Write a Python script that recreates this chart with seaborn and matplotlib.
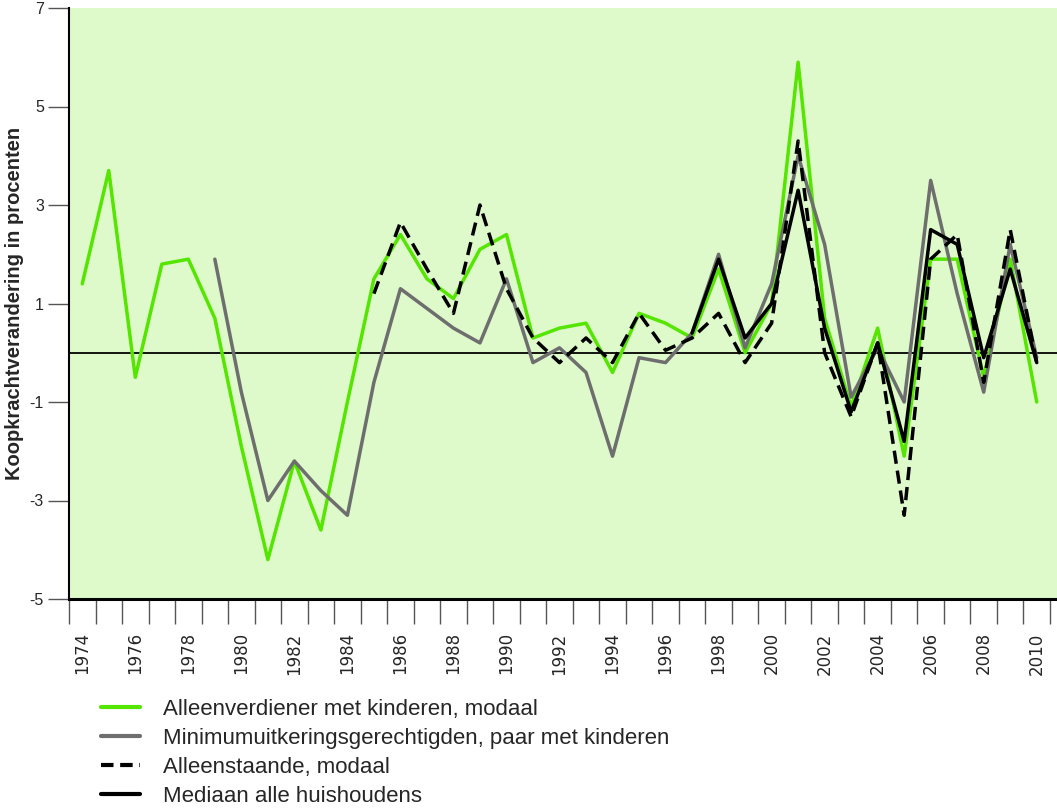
import numpy as np
import pandas as pd
import matplotlib
matplotlib.use("Agg")
import matplotlib.pyplot as plt
import seaborn as sns
from matplotlib.ticker import FixedLocator
from matplotlib.lines import Line2D
from matplotlib import font_manager

years = list(range(1974, 2011))

green_years = list(range(1974, 2011))
green_vals = [1.4, 3.7, -0.5, 1.8, 1.9, 0.7, -1.9, -4.2, -2.2, -3.6, -1.0, 1.5,
              2.4, 1.5, 1.1, 2.1, 2.4, 0.3, 0.5, 0.6, -0.4, 0.8, 0.6, 0.3,
              1.7, 0.0, 1.0, 5.9, 0.7, -1.1, 0.5, -2.1, 1.9, 1.9, -0.5, 1.9, -1.0]

gray_years = list(range(1979, 2011))
gray_vals = [1.9, -0.8, -3.0, -2.2, -2.8, -3.3, -0.6, 1.3, 0.9, 0.5, 0.2, 1.5,
             -0.2, 0.1, -0.4, -2.1, -0.1, -0.2, 0.4, 2.0, 0.1, 1.4, 4.0, 2.2,
             -0.9, 0.1, -1.0, 3.5, 1.2, -0.8, 2.2, -0.1]

dash_years = list(range(1985, 2011))
dash_vals = [1.2, 2.65, 1.7, 0.8, 3.0, 1.3, 0.3, -0.2, 0.3, -0.2, 0.8, 0.05,
             0.3, 0.8, -0.2, 0.6, 4.3, 0.0, -1.3, 0.2, -3.3, 1.9, 2.4, -0.6, 2.5, -0.2]

median_years = list(range(1997, 2011))
median_vals = [0.4, 1.9, 0.3, 1.0, 3.3, 0.5, -1.2, 0.2, -1.8, 2.5, 2.2, -0.1, 1.7, -0.2]

labels = ["Alleenverdiener met kinderen, modaal",
          "Minimumuitkeringsgerechtigden, paar met kinderen",
          "Alleenstaande, modaal",
          "Mediaan alle huishoudens"]

y_ticks = [-5, -3, -1, 1, 3, 5, 7]
x_label_years = list(range(1974, 2011, 2))

c_green = "#55E600"
c_gray = "#6E6E6E"
c_black = "#000000"
bg = "#DEFACB"

frames = []
for lab, ys, vs in zip(labels, [green_years, gray_years, dash_years, median_years],
                       [green_vals, gray_vals, dash_vals, median_vals]):
    frames.append(pd.DataFrame({"jaar": ys, "waarde": vs, "reeks": lab}))
df = pd.concat(frames, ignore_index=True)

sns.set_style("white")
plt.rcParams["font.family"] = ["Liberation Sans", "DejaVu Sans"]

fig = plt.figure(figsize=(10.57, 8.11), dpi=100)
ax = fig.add_axes([69 / 1057, 1 - 599 / 811, 1 - 69 / 1057, (599 - 8) / 811])
ax.set_facecolor(bg)

ax.axhline(0, color="black", lw=1.3, zorder=1)

palette = {labels[0]: c_green, labels[1]: c_gray, labels[2]: c_black, labels[3]: c_black}
dashes = {labels[0]: "", labels[1]: "", labels[2]: (3.8, 2.0), labels[3]: ""}
sns.lineplot(data=df, x="jaar", y="waarde", hue="reeks", style="reeks",
             palette=palette, dashes=dashes, hue_order=labels, style_order=labels,
             lw=2.5, ax=ax, legend=False, sort=True, estimator=None)

ax.set_ylim(-5, 7)
ax.set_xlim(1973.5, 2010.5 + 7 / 26.5)

ax.set_yticks(y_ticks)
ax.set_yticklabels([str(v) for v in y_ticks], fontsize=11.5)
ax.set_xticks(x_label_years)
ax.set_xticklabels([str(v) for v in x_label_years], rotation=90, fontsize=12,
                   family=["DejaVu Sans"])
ax.xaxis.set_minor_locator(FixedLocator([y - 0.5 for y in years] + [2010.5]))
ax.tick_params(axis="x", which="major", length=0, pad=24)
ax.tick_params(axis="x", which="minor", length=18, width=1.0, color="#555555", bottom=True)
ax.tick_params(axis="y", which="major", length=15, width=1.0, color="#555555", left=True, pad=3)

for s in ["top", "right"]:
    ax.spines[s].set_visible(False)
ax.spines["left"].set_color("black")
ax.spines["left"].set_linewidth(1.5)
ax.spines["bottom"].set_color("black")
ax.spines["bottom"].set_linewidth(2.2)

ax.set_xlabel("")
ax.set_ylabel("Koopkrachtverandering in procenten", fontsize=14.5, fontweight="bold", labelpad=4)

handles = [Line2D([], [], color=c_green, lw=3),
           Line2D([], [], color=c_gray, lw=3),
           Line2D([], [], color=c_black, lw=3, dashes=(3.0, 1.6)),
           Line2D([], [], color=c_black, lw=3)]
avail = {f.name for f in font_manager.fontManager.ttflist}
leg_family = ["Liberation Sans Narrow"] if "Liberation Sans Narrow" in avail else ["Liberation Sans"]
leg = fig.legend(handles, labels, loc="upper left", bbox_to_anchor=(0.0855, 0.152),
                 frameon=False, handlelength=1.75, handletextpad=1.0, labelspacing=0.36,
                 borderpad=0, prop={"family": leg_family, "size": 16})

fig.savefig("out.png", dpi=100, facecolor="white")
